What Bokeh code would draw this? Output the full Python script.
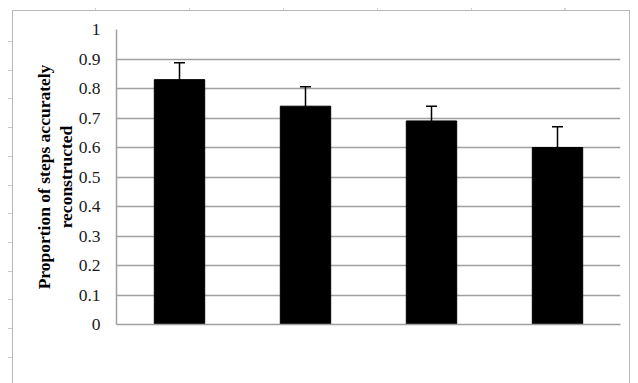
from bokeh.plotting import figure
from bokeh.models import FactorRange, Range1d, Whisker, TeeHead, ColumnDataSource, FixedTicker, InlineStyleSheet, Label
from bokeh.embed import file_html
from bokeh.resources import INLINE

categories = ["Co-thought gesture", "Actual drawing", "Hand movement prohibited", "No rehearsal"]
label_line1 = ["Co-thought", "Actual drawing", "Hand movement", "No rehearsal"]
label_line2 = ["gesture", "", "prohibited", ""]
means = [0.83, 0.74, 0.69, 0.60]
errors = [0.057, 0.066, 0.050, 0.070]
y_ticks = [0, 0.1, 0.2, 0.3, 0.4, 0.5, 0.6, 0.7, 0.8, 0.9, 1]

upper = [m + e for m, e in zip(means, errors)]
src = ColumnDataSource(dict(cat=categories, mean=means, upper=upper))

FONT = "Liberation Serif"
FS = "17.5px"

frame_css = InlineStyleSheet(css="""
:host::after {
  content: "";
  position: absolute;
  left: 12px; top: 10px; right: 0px; bottom: -20px;
  border: 1.5px solid #b8b8b8;
  pointer-events: none;
  z-index: 10;
}
:host::before {
  content: "";
  position: absolute;
  left: 0; top: 0; right: 0; bottom: 0;
  pointer-events: none;
  z-index: 10;
  background-image:
    repeating-linear-gradient(to bottom, #c4c8d4 0px, #c4c8d4 1px, transparent 1px, transparent 28.7px),
    repeating-linear-gradient(to right, #d4d4d4 0px, #d4d4d4 1px, transparent 1px, transparent 93.9px);
  background-size: 4px 340px, 480px 2px;
  background-position: 8px 40.5px, 95px 8px;
  background-repeat: no-repeat;
}
""")

p = figure(width=630, height=375, output_backend="svg", toolbar_location=None,
           x_range=FactorRange(*categories, range_padding=0),
           y_range=Range1d(0, 1),
           min_border_left=116, min_border_right=10, min_border_top=29, min_border_bottom=51)
p.stylesheets = [frame_css]

p.vbar(x="cat", top="mean", width=0.4, source=src, fill_color="black", line_color="black")
w = Whisker(source=src, base="cat", lower="mean", upper="upper", dimension="height",
            line_color="black", line_width=1.5,
            upper_head=TeeHead(size=11, line_color="black", line_width=1.5), lower_head=None)
p.add_layout(w)

p.outline_line_color = None
p.background_fill_color = "white"
p.border_fill_color = "white"

p.xgrid.grid_line_color = None
p.ygrid.grid_line_color = "#a0a0a0"
p.ygrid.grid_line_width = 1.5

p.yaxis.ticker = FixedTicker(ticks=y_ticks)
p.yaxis.major_label_overrides = {0: "0", 1: "1"}
p.yaxis.axis_line_color = "#a0a0a0"
p.yaxis.axis_line_width = 1.5
p.yaxis.major_tick_line_color = None
p.yaxis.minor_tick_line_color = None
p.yaxis.major_tick_out = 0
p.yaxis.major_tick_in = 0
p.yaxis.minor_tick_out = 0
p.yaxis.major_label_standoff = 16
p.yaxis.major_label_text_font = FONT
p.yaxis.major_label_text_font_size = FS
p.yaxis.major_label_text_color = "#1a1a1a"
p.yaxis.axis_label = "Proportion of steps accurately\nreconstructed"
p.yaxis.axis_label_text_font = FONT
p.yaxis.axis_label_text_font_size = FS
p.yaxis.axis_label_text_font_style = "bold"
p.yaxis.axis_label_text_color = "black"
p.yaxis.axis_label_text_line_height = 1.1
p.yaxis.axis_label_standoff = 0

# category names are drawn as two-line labels below the axis
p.xaxis.axis_line_color = "#a0a0a0"
p.xaxis.axis_line_width = 1.5
p.xaxis.major_tick_line_color = None
p.xaxis.minor_tick_line_color = None
p.xaxis.major_tick_out = 0
p.xaxis.major_tick_in = 0
p.xaxis.minor_tick_out = 0
p.xaxis.major_label_standoff = 11
p.xaxis.major_label_text_font = FONT
p.xaxis.major_label_text_font_size = FS
p.xaxis.major_label_text_color = None

for i, (first, second) in enumerate(zip(label_line1, label_line2)):
    p.add_layout(Label(x=i + 0.5, y=-0.092, text=first, text_align="center",
                       text_baseline="alphabetic", text_font=FONT, text_font_size=FS,
                       text_color="#1a1a1a"))
    if second:
        p.add_layout(Label(x=i + 0.5, y=-0.157, text=second, text_align="center",
                           text_baseline="alphabetic", text_font=FONT, text_font_size=FS,
                           text_color="#1a1a1a"))

open("out.html", "w").write(file_html(p, INLINE))
